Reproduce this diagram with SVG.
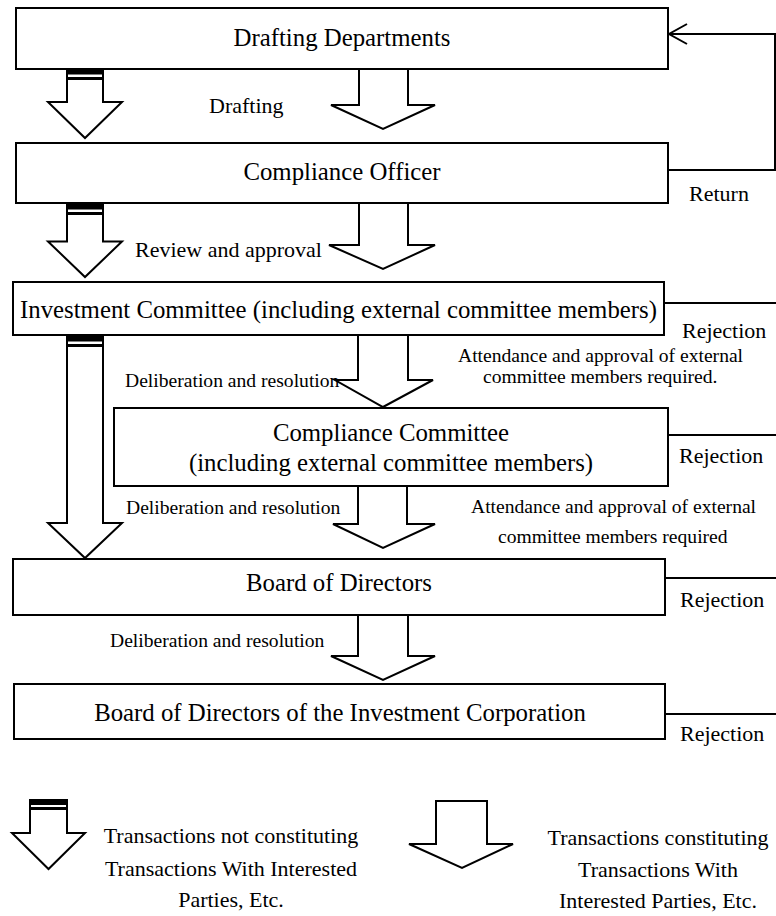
<svg xmlns="http://www.w3.org/2000/svg" width="776" height="916" viewBox="0 0 776 916">
<style>
.box{fill:#fff;stroke:#000;stroke-width:2}
.arrow{fill:#fff;stroke:#000;stroke-width:2;stroke-linejoin:miter}
.bar{fill:#000}
.line{fill:none;stroke:#000;stroke-width:2}
.t{font-size:24.8px;text-anchor:middle}
.lbl{font-size:22px}
.sm{font-size:19.6px}
.leg{font-size:22px;text-anchor:middle}
</style>
<rect width="776" height="916" fill="#fff"/>

<g id="connectors">
  <polyline class="line" points="668,170 775,170 775,34 669,34" stroke-width="1.6"/>
  <polyline class="line" points="687,24 669,34 687,44" stroke-width="1.6"/>
  <line class="line" x1="664" y1="303" x2="776" y2="303"/>
  <line class="line" x1="668" y1="435" x2="776" y2="435"/>
  <line class="line" x1="665" y1="578" x2="776" y2="578"/>
  <line class="line" x1="665" y1="714" x2="776" y2="714"/>

  <g id="arrowL1">
    <path class="arrow" d="M67,69 V102 H48 L85,138 L122,102 H103 V69 Z"/>
    <rect class="bar" x="67" y="69" width="36" height="5.5"/>
    <rect class="bar" x="67" y="77" width="36" height="3"/>
  </g>
  <g id="arrowL2">
    <path class="arrow" d="M67,203 V241.5 H48 L85,277 L122,241.5 H103 V203 Z"/>
    <rect class="bar" x="67" y="203" width="36" height="6.5"/>
    <rect class="bar" x="67" y="212" width="36" height="3"/>
  </g>
  <g id="arrowL3">
    <path class="arrow" d="M67,335 V523 H48 L85,558 L122,523 H103 V335 Z"/>
    <rect class="bar" x="67" y="335" width="36" height="6.5"/>
    <rect class="bar" x="67" y="344" width="36" height="3"/>
  </g>

  <path id="arrowR1" class="arrow" d="M359,69 V105 H331 L383,129 L435,105 H408 V69 Z"/>
  <path id="arrowR2" class="arrow" d="M359,203 V245 H329 L383,269 L435,245 H408 V203 Z"/>
  <path id="arrowR3" class="arrow" d="M358,335 V380 H335 L383,407 L433,380 H408 V335 Z"/>
  <path id="arrowR4" class="arrow" d="M358,486 V524 H333 L383,548 L435,524 H407 V486 Z"/>
  <path id="arrowR5" class="arrow" d="M358,615 V656 H331 L383,680 L435,656 H408 V615 Z"/>
</g>

<g font-family="'Liberation Serif', 'DejaVu Serif', 'Times New Roman', serif" fill="#000">
<g id="drafting-departments">
  <rect class="box" x="16" y="8" width="652" height="61"/>
  <text class="t" x="342" y="46">Drafting Departments</text>
</g>
<g id="compliance-officer">
  <rect class="box" x="16" y="143" width="652" height="60"/>
  <text class="t" x="342" y="180">Compliance Officer</text>
</g>
<g id="investment-committee">
  <rect class="box" x="13" y="282" width="651" height="53"/>
  <text class="t" x="338.5" y="318">Investment Committee (including external committee members)</text>
</g>
<g id="compliance-committee">
  <rect class="box" x="114" y="408" width="554" height="78"/>
  <text class="t" x="391" y="441">Compliance Committee</text>
  <text class="t" x="391" y="471">(including external committee members)</text>
</g>
<g id="board-of-directors">
  <rect class="box" x="13" y="559" width="652" height="56"/>
  <text class="t" x="339" y="591">Board of Directors</text>
</g>
<g id="board-investment-corporation">
  <rect class="box" x="14" y="684" width="651" height="55"/>
  <text class="t" x="340" y="721">Board of Directors of the Investment Corporation</text>
</g>

<g id="labels">
  <text class="lbl" x="209" y="113">Drafting</text>
  <text class="lbl" x="689" y="201">Return</text>
  <text class="lbl" x="135" y="257">Review and approval</text>
  <text class="lbl" x="682" y="338">Rejection</text>
  <text class="sm" x="125" y="387" font-size="18.8">Deliberation and resolution</text>
  <text class="sm" x="458" y="362">Attendance and approval of external</text>
  <text class="sm" x="483" y="383">committee members required.</text>
  <text class="lbl" x="679" y="463">Rejection</text>
  <text class="sm" x="126" y="514">Deliberation and resolution</text>
  <text class="sm" x="471" y="513">Attendance and approval of external</text>
  <text class="sm" x="498" y="543">committee members required</text>
  <text class="lbl" x="680" y="607">Rejection</text>
  <text class="sm" x="110" y="647">Deliberation and resolution</text>
  <text class="lbl" x="680" y="741">Rejection</text>
</g>

<g id="legend">
  <g id="legend-barred">
    <path class="arrow" d="M30,800 V833 H12 L48.5,869 L85,833 H67 V800 Z"/>
    <rect class="bar" x="30" y="799" width="37" height="6"/>
    <rect class="bar" x="30" y="807" width="37" height="3"/>
    <text class="leg" x="231" y="843">Transactions not constituting</text>
    <text class="leg" x="231" y="876">Transactions With Interested</text>
    <text class="leg" x="231" y="907">Parties, Etc.</text>
  </g>
  <g id="legend-plain">
    <path class="arrow" d="M436,801 V844 H409 L462,868 L513,844 H487 V801 Z"/>
    <text class="leg" x="658" y="845">Transactions constituting</text>
    <text class="leg" x="658" y="877">Transactions With</text>
    <text class="leg" x="658" y="908">Interested Parties, Etc.</text>
  </g>
</g>
</g>
</svg>
